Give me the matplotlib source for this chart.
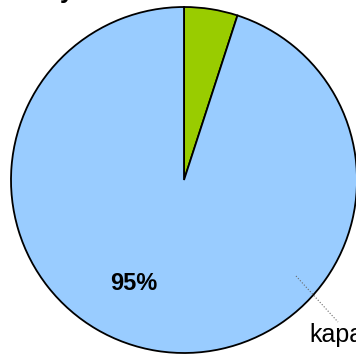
import matplotlib.pyplot as plt

plt.rcParams['font.family'] = ['Liberation Sans', 'DejaVu Sans']

# Pie slices (percent)
labels = ['lainnya', 'kapa']
values = [5, 95]
colors = ['#99CC00', '#99CCFF']

fig = plt.figure(figsize=(3.56, 3.54), dpi=100)
ax = fig.add_axes([0, 0, 1, 1])

# pixel-like data coordinates so the big pie runs off the canvas edges
ax.pie(values, colors=colors, startangle=90, counterclock=False,
       center=(184, 174), radius=173, frame=True,
       wedgeprops=dict(edgecolor='black', linewidth=1.3))
ax.set_xlim(0, 356)
ax.set_ylim(0, 354)
ax.set_aspect('equal')
ax.axis('off')

# percentage inside the large slice
ax.text(134, 71, f"{values[1]}%", ha='center', va='center',
        fontsize=17, fontweight='bold')

# leader line and outside label
ax.plot([296, 338], [78, 32], color='dimgray', linestyle=':', linewidth=0.8)
ax.text(309, 12, labels[1], ha='left', va='baseline', fontsize=18, clip_on=False)

# title sits mostly above the canvas
ax.text(60, 356, "y", ha='left', va='baseline', fontsize=18,
        fontweight='bold', clip_on=False)

fig.savefig('out.png', dpi=100)
